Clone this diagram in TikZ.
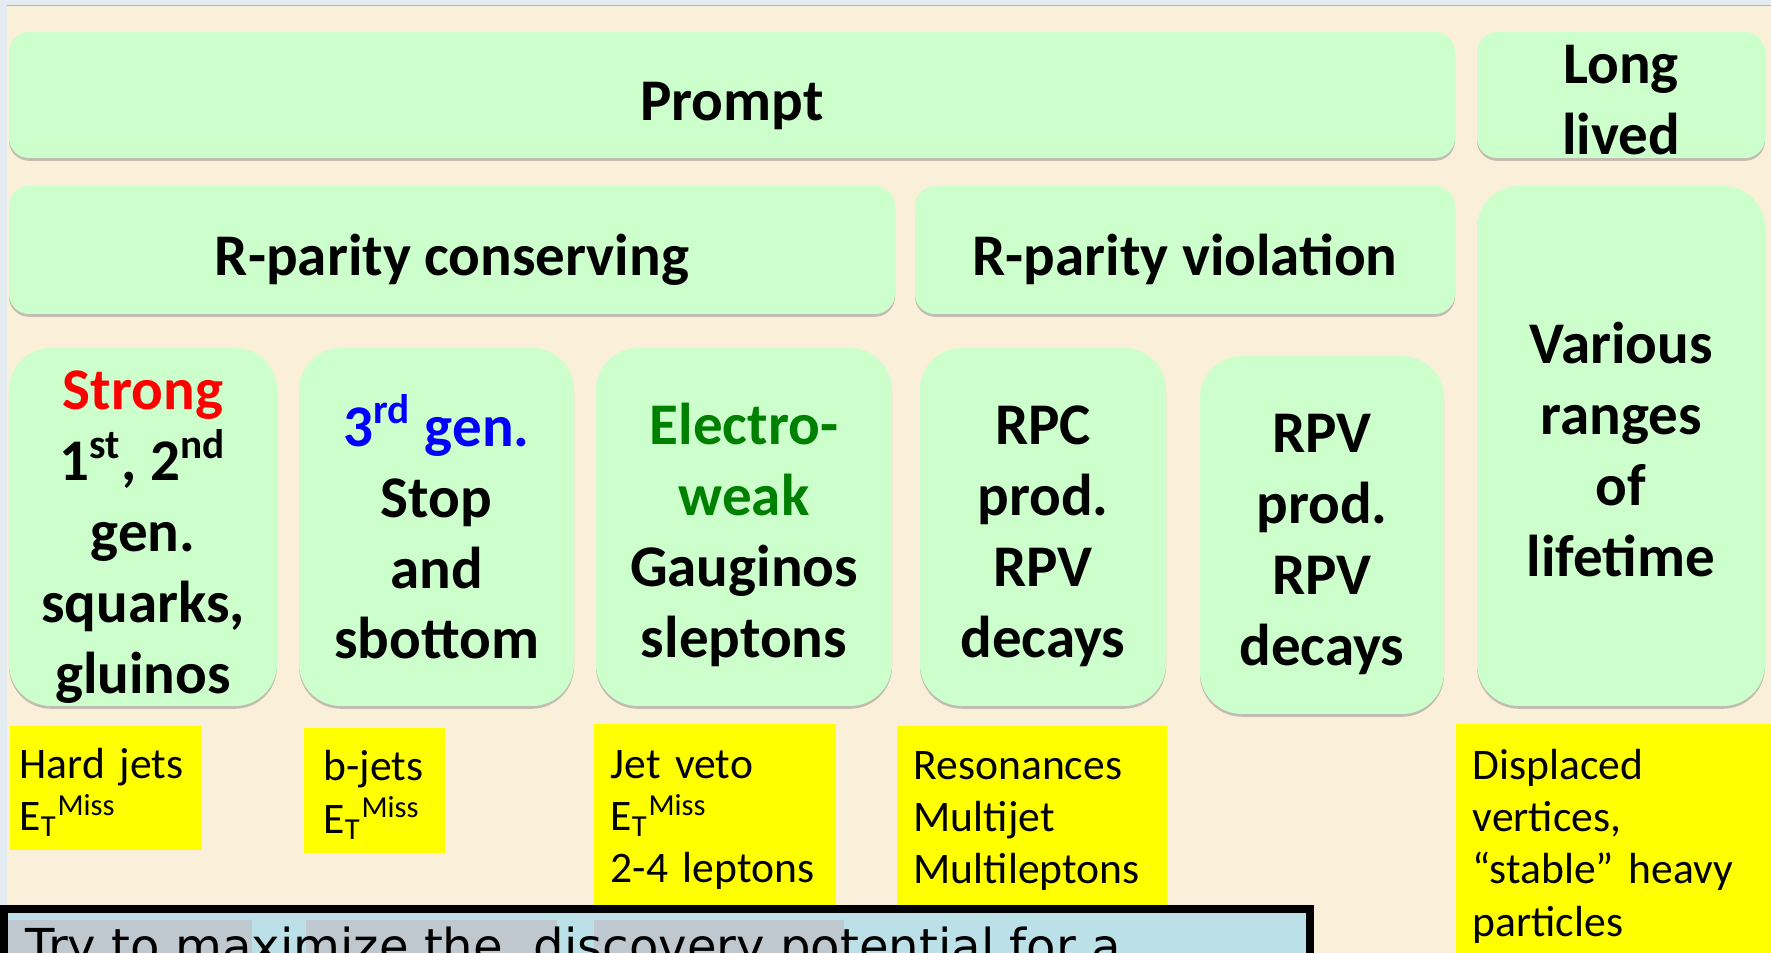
\documentclass[tikz,border=0pt]{standalone}
\usepackage{fontspec}
\setmainfont{Carlito}
\newfontfamily\dejavu{DejaVu Sans}
\usetikzlibrary{shadows}

\definecolor{paper}{RGB}{250,240,217}
\definecolor{mint}{RGB}{204,255,204}
\definecolor{hilite}{RGB}{255,255,0}
\definecolor{notebg}{RGB}{188,224,232}
\definecolor{selgrey}{RGB}{192,200,207}
\definecolor{ewgreen}{RGB}{0,128,0}
\definecolor{winframe}{RGB}{228,236,241}
\definecolor{winedge}{RGB}{205,178,142}

\newcommand{\boxstrut}[1]{\rule[-0.26em]{0pt}{\dimexpr 1.2em+#1\relax}}
\newcommand{\lift}{\rule{0pt}{0.82em}}
\newcommand{\etmiss}{E\textsubscript{T}\textsuperscript{Miss}}

\begin{document}
\begin{tikzpicture}[
  header/.style={rectangle, rounded corners=0.2cm, fill=mint, inner ysep=-1cm, align=center,
    font=\bfseries\fontsize{16.8}{20.2}\selectfont,
    drop shadow={shadow xshift=0pt, shadow yshift=-0.8pt, opacity=0.45}},
  padded/.style={execute at begin node={\boxstrut{#1}}, execute at end node={\boxstrut{0pt}}},
  padded/.default=0.1cm,
  topic/.style={header, rounded corners=0.42cm, minimum height=3.58cm, text depth=0pt},
  tag/.style={rectangle, fill=hilite, anchor=north west, align=left, inner xsep=0.17cm, inner ysep=-1cm,
    font=\fontsize{12.4}{14.9}\selectfont,
    execute at begin node={\rule{0pt}{\dimexpr 0.8em+0.05cm\relax}}},
]

  \useasboundingbox (0,0) rectangle (17.71,9.53);
  \clip (0,0) rectangle (17.71,9.53);
  \fill[paper] (0,0) rectangle (17.71,9.53);
  \fill[winframe] (0,9.48) rectangle (17.71,9.53);
  \fill[winedge] (0.07,9.465) rectangle (17.71,9.48);
  \fill[winframe] (0,0) rectangle (0.07,9.53);

  \node[header, padded, minimum width=14.46cm, minimum height=1.26cm] (prompt) at (7.32,8.58) {Prompt};
  \node[header, text depth=0pt, minimum width=2.88cm, minimum height=1.26cm] (longlived) at (16.21,8.58) {\lift Long\\lived};

  \node[header, padded, minimum width=8.86cm, minimum height=1.28cm] (rpc) at (4.52,7.03) {R-parity conserving};
  \node[header, padded, minimum width=5.40cm, minimum height=1.28cm] (rpv) at (11.85,7.03) {R-parity violation};
  \node[topic, minimum width=2.88cm, minimum height=5.20cm] (lifetime) at (16.21,5.07) {\lift Various\\ranges\\of\\lifetime};

  \node[topic, minimum width=2.68cm] (strong) at (1.43,4.26) {\lift\textcolor{red}{Strong}\\1\textsuperscript{st}, 2\textsuperscript{nd}\\gen.\\squarks,\\gluinos};
  \node[topic, minimum width=2.75cm] (thirdgen) at (4.365,4.26) {\lift\textcolor{blue}{3\textsuperscript{rd} gen.}\\Stop\\and\\sbottom};
  \node[topic, minimum width=2.96cm] (ewk) at (7.44,4.26) {\lift\textcolor{ewgreen}{Electro-}\\\textcolor{ewgreen}{weak}\\Gauginos\\sleptons};
  \node[topic, minimum width=2.46cm] (rpcprod) at (10.43,4.26) {\lift RPC\\prod.\\RPV\\decays};
  \node[topic, minimum width=2.44cm] (rpvprod) at (13.22,4.18) {\lift RPV\\prod.\\RPV\\decays};

  \node[tag, inner xsep=0.10cm, text width=1.71cm, minimum height=1.24cm] (hardjets) at (0.09,2.28) {Hard jets\\\etmiss};
  \node[tag, inner xsep=0.2cm, text width=1.01cm, minimum height=1.25cm] (bjets) at (3.03,2.26) {b-jets\\\etmiss};
  \node[tag, text width=2.08cm, minimum height=1.81cm] (jetveto) at (5.93,2.30) {Jet veto\\\etmiss\\2-4 leptons};
  \node[tag, text width=2.36cm, minimum height=1.79cm] (reson) at (8.96,2.28) {Resonances\\Multijet\\Multileptons};
  \node[tag, text width=2.86cm, minimum height=2.35cm] (displaced) at (14.55,2.30) {Displaced\\vertices,\\“stable” heavy\\particles};

  \fill[notebg] (0.04,0.44) rectangle (13.10,-1.0);
  \fill[selgrey] (0.08,0.33) rectangle (2.52,-1.0);
  \fill[selgrey] (3.06,0.33) rectangle (5.57,-1.0);
  \fill[selgrey] (5.94,0.33) rectangle (8.44,-1.0);
  \draw[line width=0.08cm] (0.04,0.44) rectangle (13.10,-1.0);
  \node[font=\dejavu\fontsize{13.7}{16}\selectfont, anchor=base west, inner sep=0pt] (note) at (0.25,-0.11) {Try to maximize the\ \ discovery potential for a};

\end{tikzpicture}
\end{document}
